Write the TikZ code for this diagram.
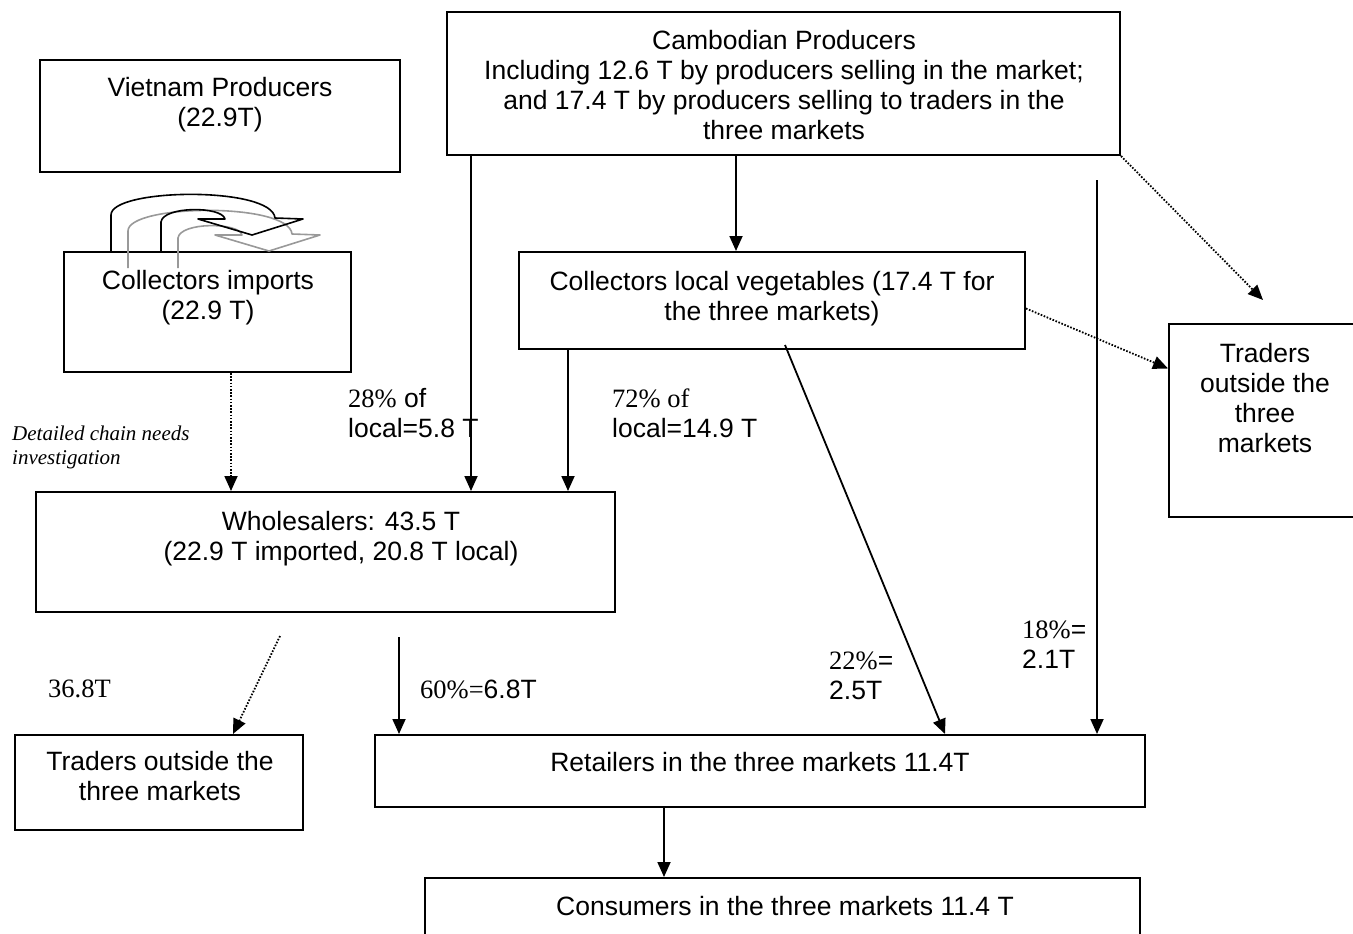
\documentclass[tikz,border=0pt]{standalone}
\usepackage{fontspec}
\setmainfont{Liberation Sans}
\newfontfamily\serif{Liberation Serif}
\usetikzlibrary{arrows.meta}
\begin{document}
\begin{tikzpicture}[x=1pt,y=-1pt,
 box/.style={draw, line width=2pt, inner sep=0pt},
 txt/.style={align=center, inner sep=0pt, font=\fontsize{26.5}{30}\selectfont, anchor=north},
 lbl/.style={align=left, inner sep=0pt, font=\fontsize{26.5}{30}\selectfont, anchor=north west},
 arr/.style={line width=1.8pt, -{Triangle[length=15pt,width=13pt]}},
 dotarr/.style={line width=1.8pt, dash pattern=on 1.6pt off 1.6pt, -{Triangle[length=15pt,width=13pt]}},
 icon/.style={line width=1.6pt, line join=round},
]
\useasboundingbox (0,0) rectangle (1353,934);

% boxes
\node[box, minimum width=360pt, minimum height=112pt] (vp) at (220,116) {};
\node[box, minimum width=673pt, minimum height=143pt] (cp) at (783.5,83.5) {};
\node[box, minimum width=287pt, minimum height=120pt] (ci) at (207.5,312) {};
\node[box, minimum width=506pt, minimum height=97pt] (cl) at (772,300.5) {};
\node[box, minimum width=196pt, minimum height=193pt] (tr) at (1267,420.5) {};
\node[box, minimum width=579pt, minimum height=120pt] (wh) at (325.5,552) {};
\node[box, minimum width=288pt, minimum height=95pt] (tl) at (159,782.5) {};
\node[box, minimum width=770pt, minimum height=72pt] (re) at (760,771) {};
\node[box, minimum width=715pt, minimum height=82pt] (co) at (782.5,919) {};

% box texts
\node[txt] (vpt) at (220,77) {Vietnam Producers\\(22.9T)};
\node[txt] (cpt) at (784,30) {Cambodian Producers\\Including 12.6 T by producers selling in the market;\\and 17.4 T by producers selling to traders in the\\three markets};
\node[txt] (cit) at (208,270) {Collectors imports\\(22.9 T)};
\node[txt] (clt) at (772,271) {Collectors local vegetables (17.4 T for\\the three markets)};
\node[txt] (trt) at (1265,343) {Traders\\outside the\\three\\markets};
\node[txt] (wht) at (341,511) {Wholesalers: 43.5 T\\(22.9 T imported, 20.8 T local)};
\node[txt] (tlt) at (160,751) {Traders outside the\\three markets};
\node[txt] (ret) at (760,752) {Retailers in the three markets 11.4T};
\node[txt] (cot) at (785,896) {Consumers in the three markets 11.4 T};

% helper coordinates
\coordinate (a1) at (471,0);
\coordinate (a2) at (736,0);
\coordinate (s3) at (1097,180);
\coordinate (e4) at (1263,300);
\coordinate (a5) at (568,0);
\coordinate (a6) at (231,0);
\coordinate (s7) at (785,345);
\coordinate (a7) at (945,0);
\coordinate (s8) at (399,637);
\coordinate (s9) at (280,636);
\coordinate (a9) at (233,0);
\coordinate (a10) at (664,0);

% connectors
\draw[arr] (cp.south -| a1) -- (wh.north -| a1);
\draw[arr] (cp.south -| a2) -- (cl.north -| a2);
\draw[arr] (s3) -- (re.north -| s3);
\draw[dotarr] (cp.south east) -- (e4);
\draw[dotarr] ([yshift=-8pt]cl.east) -- ([yshift=52pt]tr.west);
\draw[arr] (cl.south -| a5) -- (wh.north -| a5);
\draw[dotarr] (ci.south -| a6) -- (wh.north -| a6);
\draw[arr] (s7) -- (re.north -| a7);
\draw[arr] (s8) -- (re.north -| s8);
\draw[dotarr] (s9) -- (tl.north -| a9);
\draw[arr] (re.south -| a10) -- (co.north -| a10);

% labels
\node[lbl] (l28) at (348,388) {{\serif 28\%} of\\local=5.8 T};
\node[lbl] (l72) at (612,389) {{\serif 72\% of}\\local=14.9 T};
\node[lbl, font=\fontsize{21}{24}\selectfont\serif\itshape] (ldet) at (12,426) {Detailed chain needs\\investigation};
\node[lbl, font=\fontsize{26.5}{30}\selectfont\serif] (l368) at (48,680) {36.8T};
\node[lbl] (l60) at (420,680) {{\serif 60\%=}6.8T};
\node[lbl] (l22) at (829,652) {{\serif 22\%}=\\2.5T};
\node[lbl] (l18) at (1022,621) {{\serif 18\%}=\\2.1T};

% U-turn icon
\begin{scope}[shift={(17,16)}]
\draw[icon, gray!80] (111,252) -- (111,215) .. controls (111,188) and (272,186) .. (275,218) -- (303,219) -- (252,235) -- (198,219) -- (225,219) .. controls (222,206) and (163,206) .. (161,222) -- (161,252);
\end{scope}
\draw[icon] (111,252) -- (111,215) .. controls (111,188) and (272,186) .. (275,218) -- (303,219) -- (252,235) -- (198,219) -- (225,219) .. controls (222,206) and (163,206) .. (161,222) -- (161,252);
\end{tikzpicture}
\end{document}
